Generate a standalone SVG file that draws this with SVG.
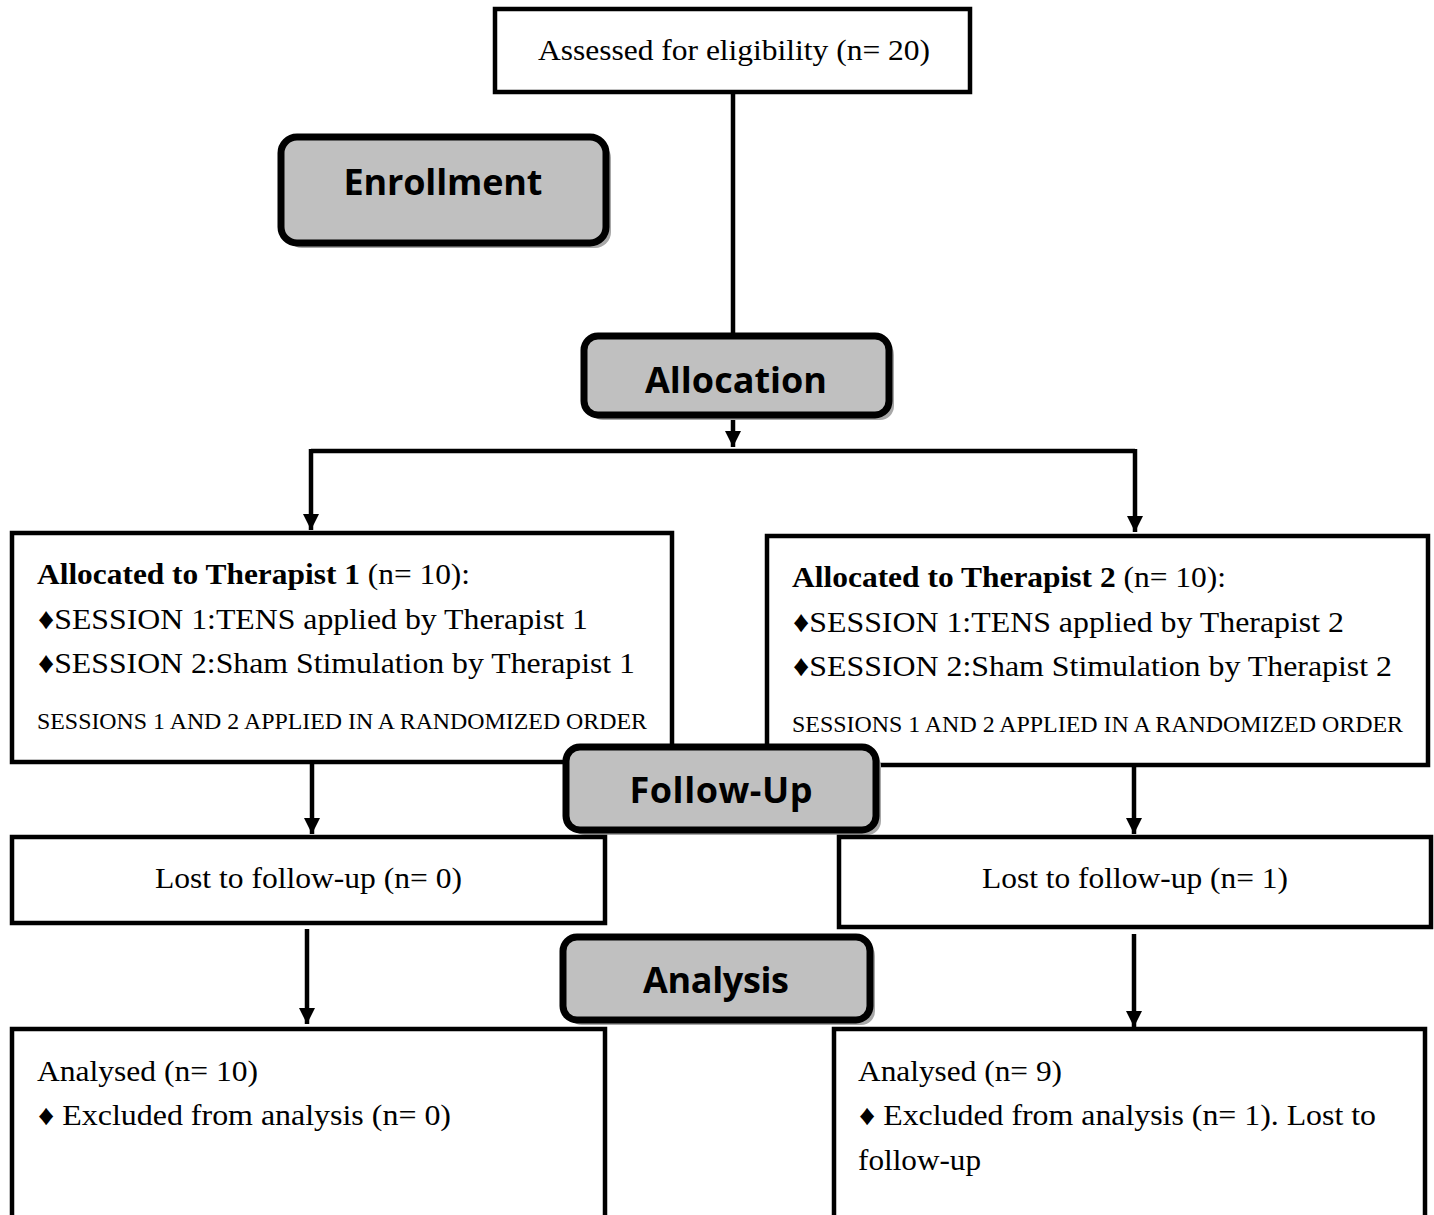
<svg xmlns="http://www.w3.org/2000/svg" width="1434" height="1215" viewBox="0 0 1434 1215">
<defs>
<marker id="arr" viewBox="0 0 10 10" refX="10" refY="5" markerWidth="3.6" markerHeight="3.6" markerUnits="strokeWidth" orient="auto">
<path d="M0,0 L10,5 L0,10 z" fill="#000"/>
</marker>
<style>
.box{fill:#fff;stroke:#000;stroke-width:4.5}
.stage{fill:#c0c0c0;stroke:#000;stroke-width:7}
.shadow{fill:#a8a8a8}
.conn{fill:none;stroke:#000;stroke-width:4.5}
.t{font-family:"Liberation Serif","Times New Roman",serif;font-size:30px;fill:#000}
.u{font-family:"Liberation Serif","Times New Roman",serif;font-size:29px;fill:#000}
.s{font-family:"Liberation Serif","Times New Roman",serif;font-size:24px;fill:#000}
.b{font-weight:bold}
.h{font-family:"Open Sans","Noto Sans",sans-serif;font-weight:bold;font-size:36px;fill:#000;text-anchor:middle}
</style>
</defs>
<rect width="1434" height="1215" fill="#fff"/>
<g id="connectors">
<path class="conn" d="M733,92 V336"/>
<path class="conn" d="M733,415 V447" marker-end="url(#arr)"/>
<path class="conn" d="M311,451 H1135"/>
<path class="conn" d="M311,449 V530" marker-end="url(#arr)"/>
<path class="conn" d="M1135,449 V532" marker-end="url(#arr)"/>
<path class="conn" d="M312,762 V834" marker-end="url(#arr)"/>
<path class="conn" d="M1134,765 V834" marker-end="url(#arr)"/>
<path class="conn" d="M307,929 V1024" marker-end="url(#arr)"/>
<path class="conn" d="M1134,934 V1027" marker-end="url(#arr)"/>
</g>
<g id="assessed">
<rect class="box" x="495" y="9" width="475" height="83"/>
<text class="t" x="538" y="60" textLength="392" lengthAdjust="spacingAndGlyphs">Assessed for eligibility (n= 20)</text>
</g>
<g id="enrollment">
<rect class="shadow" x="286" y="142" width="325" height="106" rx="16"/>
<rect class="stage" x="281" y="137" width="325" height="106" rx="16"/>
<text class="h" x="443" y="195" textLength="199">Enrollment</text>
</g>
<g id="allocation">
<rect class="shadow" x="589" y="341" width="305" height="79" rx="14"/>
<rect class="stage" x="584" y="336" width="305" height="79" rx="14"/>
<text class="h" x="736" y="393" textLength="182">Allocation</text>
</g>
<g id="therapist1">
<rect class="box" x="12" y="533" width="660" height="229"/>
<text class="t" x="37" y="584" textLength="433" lengthAdjust="spacingAndGlyphs"><tspan class="b">Allocated to Therapist 1</tspan> (n= 10):</text>
<text class="t" x="38" y="629" textLength="550" lengthAdjust="spacingAndGlyphs">♦SESSION 1:TENS applied by Therapist 1</text>
<text class="t" x="38" y="673" textLength="597" lengthAdjust="spacingAndGlyphs">♦SESSION 2:Sham Stimulation by Therapist 1</text>
<text class="s" x="37" y="729" textLength="610" lengthAdjust="spacingAndGlyphs">SESSIONS 1 AND 2 APPLIED IN A RANDOMIZED ORDER</text>
</g>
<g id="therapist2">
<rect class="box" x="767" y="536" width="661" height="229"/>
<text class="t" x="792" y="587" textLength="434" lengthAdjust="spacingAndGlyphs"><tspan class="b">Allocated to Therapist 2</tspan> (n= 10):</text>
<text class="t" x="793" y="632" textLength="551" lengthAdjust="spacingAndGlyphs">♦SESSION 1:TENS applied by Therapist 2</text>
<text class="t" x="793" y="676" textLength="599" lengthAdjust="spacingAndGlyphs">♦SESSION 2:Sham Stimulation by Therapist 2</text>
<text class="s" x="792" y="732" textLength="611" lengthAdjust="spacingAndGlyphs">SESSIONS 1 AND 2 APPLIED IN A RANDOMIZED ORDER</text>
</g>
<g id="followup">
<rect class="shadow" x="571" y="752" width="310" height="83" rx="14"/>
<rect class="stage" x="566" y="747" width="310" height="83" rx="14"/>
<text class="h" x="721" y="803" textLength="183">Follow-Up</text>
</g>
<g id="lost1">
<rect class="box" x="12" y="837" width="593" height="86"/>
<text class="t" x="155" y="888" textLength="307" lengthAdjust="spacingAndGlyphs">Lost to follow-up (n= 0)</text>
</g>
<g id="lost2">
<rect class="box" x="839" y="837" width="592" height="90"/>
<text class="t" x="982" y="888" textLength="306" lengthAdjust="spacingAndGlyphs">Lost to follow-up (n= 1)</text>
</g>
<g id="analysis">
<rect class="shadow" x="568" y="942" width="307" height="83" rx="14"/>
<rect class="stage" x="563" y="937" width="307" height="83" rx="14"/>
<text class="h" x="716" y="993" textLength="146">Analysis</text>
</g>
<g id="analysed1">
<rect class="box" x="12" y="1029" width="593" height="200"/>
<text class="u" x="37" y="1081" textLength="221" lengthAdjust="spacingAndGlyphs">Analysed (n= 10)</text>
<text class="u" x="38" y="1125" textLength="413" lengthAdjust="spacingAndGlyphs">♦ Excluded from analysis (n= 0)</text>
</g>
<g id="analysed2">
<rect class="box" x="834" y="1029" width="591" height="200"/>
<text class="u" x="858" y="1081" textLength="204" lengthAdjust="spacingAndGlyphs">Analysed (n= 9)</text>
<text class="u" x="859" y="1125" textLength="517" lengthAdjust="spacingAndGlyphs">♦ Excluded from analysis (n= 1). Lost to</text>
<text class="u" x="858" y="1170" textLength="123" lengthAdjust="spacingAndGlyphs">follow-up</text>
</g>
</svg>
